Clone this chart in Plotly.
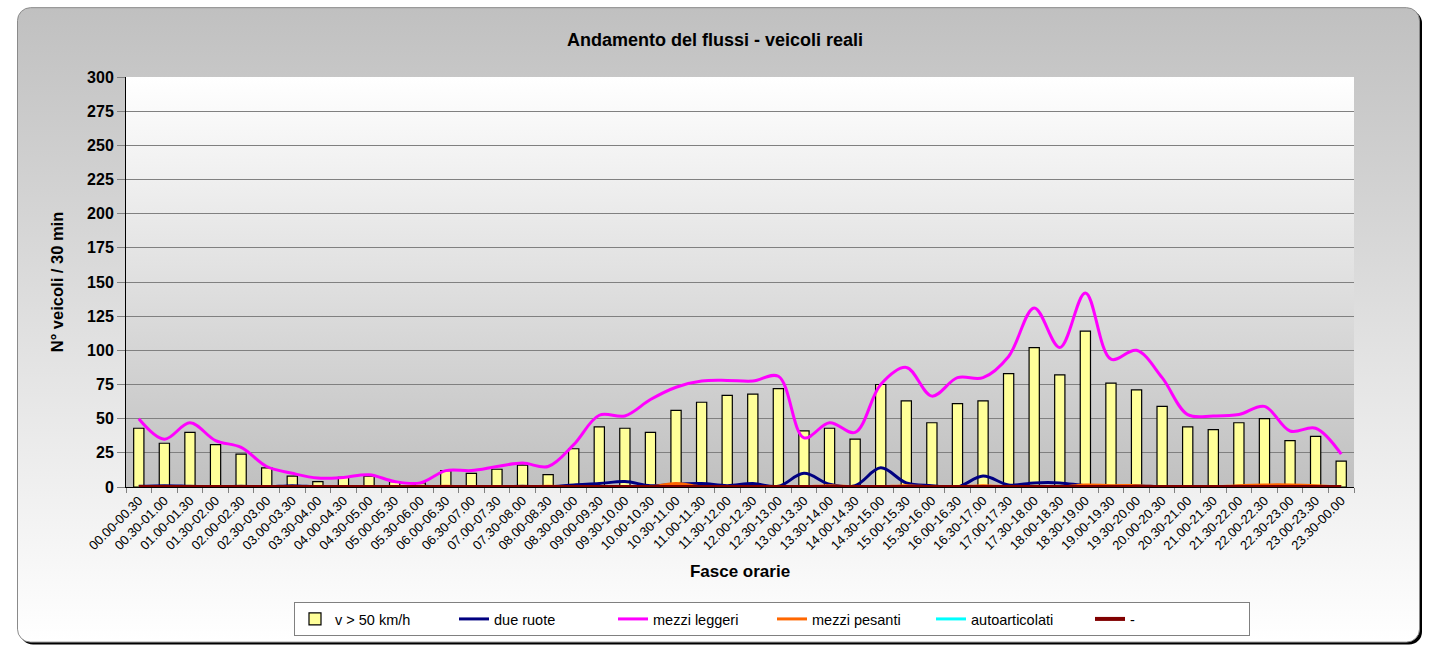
import base64
import plotly.graph_objects as go

fasce = ['00.00-00.30', '00.30-01.00', '01.00-01.30', '01.30-02.00', '02.00-02.30', '02.30-03.00',
         '03.00-03.30', '03.30-04.00', '04.00-04.30', '04.30-05.00', '05.00-05.30', '05.30-06.00',
         '06.00-06.30', '06.30-07.00', '07.00-07.30', '07.30-08.00', '08.00-08.30', '08.30-09.00',
         '09.00-09.30', '09.30-10.00', '10.00-10.30', '10.30-11.00', '11.00-11.30', '11.30-12.00',
         '12.00-12.30', '12.30-13.00', '13.00-13.30', '13.30-14.00', '14.00-14.30', '14.30-15.00',
         '15.00-15.30', '15.30-16.00', '16.00-16.30', '16.30-17.00', '17.00-17.30', '17.30-18.00',
         '18.00-18.30', '18.30-19.00', '19.00-19.30', '19.30-20.00', '20.00-20.30', '20.30-21.00',
         '21.00-21.30', '21.30-22.00', '22.00-22.30', '22.30-23.00', '23.00-23.30', '23.30-00.00']

v_oltre_50 = [43, 32, 40, 31, 24, 14, 8, 4, 7, 8, 4, 3,
              12, 10, 13, 16, 9, 28, 44, 43, 40, 56, 62, 67,
              68, 72, 41, 43, 35, 75, 63, 47, 61, 63, 83, 102,
              82, 114, 76, 71, 59, 44, 42, 47, 50, 34, 37, 19]

due_ruote = [0.5, 1, 0.5, 0, 0.5, 0, 1, 0, 0, 0, 0, 0.5,
             0, 0, 0, 0.5, 0, 1.5, 2.5, 4, 1, 2, 2.5, 1,
             2.5, 0.5, 10, 2, 1, 14, 3, 1, 0, 8, 1.5, 3,
             3, 1, 0.5, 1, 0, 0, 0, 0.5, 1, 1, 0, 0]

mezzi_leggeri = [50, 35, 47, 34, 29, 15, 10, 6.5, 7, 9, 4, 3,
                 12, 12, 15, 17.5, 15, 31, 52.5, 52, 64, 73, 77.5, 78,
                 77.5, 81, 36, 47, 40, 75, 87.5, 66.5, 80, 80, 95.5, 131,
                 102, 142, 93.5, 100, 80, 53, 52, 53, 59, 41, 43, 24]

mezzi_pesanti = [0, 0, 0, 0, 0, 0, 0, 0, 0, 0, 0, 0,
                 0.5, 0, 0, 0, 0.5, 0, 0, 0, 0, 2.5, 0, 0,
                 0, 0, 0, 1, 0, 0, 1, 0, 0, 1, 0, 0,
                 0, 1.5, 1, 1, 0, 0, 0, 1, 1.5, 1.5, 1, 0]

autoarticolati = [0] * 48
altro = [0] * 48

W, H = 1430, 647
ML, MR, MT, MB = 126, 76, 77, 159
PW, PH = W - ML - MR, H - MT - MB
FONT = 'Liberation Sans, Arial, sans-serif'

# card + plot area gradients as one svg background
svg = f'''<svg xmlns="http://www.w3.org/2000/svg" width="{W}" height="{H}" viewBox="0 0 {W} {H}">
<defs>
<linearGradient id="card" x1="0" y1="0" x2="0" y2="1">
<stop offset="0" stop-color="#c0c0c0"/><stop offset="1" stop-color="#ffffff"/></linearGradient>
<linearGradient id="plot" x1="0" y1="0" x2="0" y2="1">
<stop offset="0" stop-color="#ffffff"/><stop offset="1" stop-color="#c0c0c0"/></linearGradient>
</defs>
<rect x="20" y="10" width="1402" height="636" rx="13" fill="#000000"/>
<rect x="17.5" y="7.5" width="1402" height="636" rx="13" fill="url(#card)" stroke="#8a8a8a" stroke-width="1"/>
<rect x="{ML}" y="{MT}" width="{PW}" height="{PH}" fill="url(#plot)"/>
</svg>'''
bg_src = 'data:image/svg+xml;base64,' + base64.b64encode(svg.encode()).decode()

fig = go.Figure()
fig.add_trace(go.Bar(x=fasce, y=v_oltre_50, name='v > 50 km/h',
                     marker=dict(color='#FFFF99', line=dict(color='black', width=1.2))))
fig.add_trace(go.Scatter(x=fasce, y=due_ruote, name='due ruote', mode='lines',
                         line=dict(color='#000080', width=3, shape='spline')))
fig.add_trace(go.Scatter(x=fasce, y=mezzi_leggeri, name='mezzi leggeri', mode='lines',
                         line=dict(color='#FF00FF', width=3, shape='spline')))
fig.add_trace(go.Scatter(x=fasce, y=mezzi_pesanti, name='mezzi pesanti', mode='lines',
                         line=dict(color='#FF6600', width=3, shape='spline')))
fig.add_trace(go.Scatter(x=fasce, y=autoarticolati, name='autoarticolati', mode='lines',
                         line=dict(color='#00FFFF', width=3, shape='spline')))
fig.add_trace(go.Scatter(x=fasce, y=altro, name='-', mode='lines',
                         line=dict(color='#800000', width=4, shape='spline')))

fig.update_layout(
    width=W, height=H,
    margin=dict(l=ML, r=MR, t=MT, b=MB),
    paper_bgcolor='white',
    plot_bgcolor='rgba(0,0,0,0)',
    font=dict(family=FONT, size=12, color='black'),
    bargap=0.6,
    title=dict(text='<b>Andamento del flussi - veicoli reali</b>', x=0.5, xanchor='center',
               y=1 - 40 / H, yanchor='middle', font=dict(size=18)),
    legend=dict(orientation='h', x=(772 - ML) / PW, xanchor='center', y=(MT + PH - 602) / PH,
                yanchor='top', bgcolor='white', bordercolor='#808080', borderwidth=1,
                entrywidth=114, font=dict(size=14.5), traceorder='normal'),
    images=[dict(source=bg_src, xref='paper', yref='paper', x=-ML / PW, y=1 + MT / PH,
                 sizex=W / PW, sizey=H / PH, xanchor='left', yanchor='top',
                 sizing='stretch', layer='below')],
)

fig.update_xaxes(type='category', tickangle=-45, tickfont=dict(size=13),
                 ticks='outside', tickson='boundaries', ticklen=5, tickcolor='#808080',
                 showline=True, linecolor='black', linewidth=1, showgrid=False,
                 title=dict(text='<b>Fasce orarie</b>', font=dict(size=17), standoff=13))
fig.update_yaxes(range=[0, 300], dtick=25, tickfont=dict(size=16, weight='bold'),
                 ticks='outside', ticklen=8, tickcolor='#808080',
                 showline=True, linecolor='black', linewidth=1,
                 showgrid=True, gridcolor='#808080', gridwidth=1, zeroline=False,
                 title=dict(text='<b>N° veicoli / 30 min</b>', font=dict(size=16.5), standoff=19))

fig.write_html("out.html", config={'displayModeBar': False},
               post_script="document.body.style.margin='0px';")
